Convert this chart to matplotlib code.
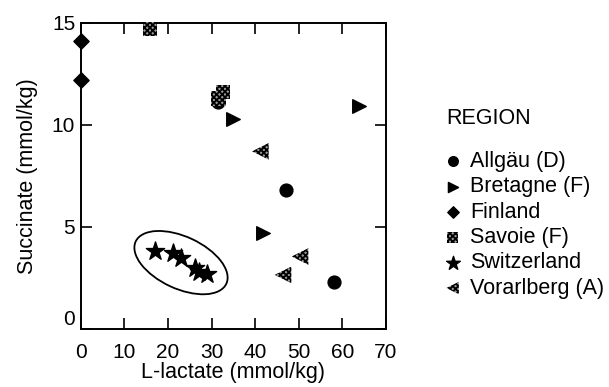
import matplotlib
matplotlib.use('Agg')
import matplotlib.pyplot as plt
from matplotlib.patches import Ellipse
from matplotlib.transforms import Affine2D

plt.rcParams['font.family'] = ['Liberation Sans', 'DejaVu Sans']
plt.rcParams['hatch.linewidth'] = 1.3

# valores (L-lactato, succinato)
allgau_x = [31.5, 47.0, 58.0]
allgau_y = [11.1, 6.8, 2.3]
bretagne_x = [34.9, 63.8, 41.9]
bretagne_y = [10.3, 10.9, 4.7]
finland_x = [0.0, 0.0]
finland_y = [14.1, 12.2]
savoie_x = [15.9, 31.6, 32.6]
savoie_y = [14.7, 11.3, 11.6]
swiss_x = [17.0, 21.2, 22.9, 26.3, 27.1, 29.0]
swiss_y = [3.8, 3.7, 3.5, 3.0, 2.8, 2.7]
vorarl_x = [41.2, 50.3, 46.4]
vorarl_y = [8.7, 3.55, 2.65]

labels = ['Allgäu (D)', 'Bretagne (F)', 'Finland', 'Savoie (F)',
          'Switzerland', 'Vorarlberg (A)']

fig = plt.figure(figsize=(6.09, 3.87), dpi=100)
ax = fig.add_axes([0.1325, 0.1499, 0.5013, 0.7915])

# puntos por region
ax.scatter(allgau_x, allgau_y, marker='o', s=85, c='black', zorder=3, label=labels[0])
ax.scatter(bretagne_x, bretagne_y, marker='>', s=95, c='black', zorder=3, label=labels[1])
ax.scatter(finland_x, finland_y, marker='D', s=60, c='black', zorder=4,
           clip_on=False, label=labels[2])
ax.scatter(savoie_x, savoie_y, marker='s', s=110, facecolor='#9a9a9a', edgecolor='black',
           hatch='xxxxxx', linewidth=0, zorder=4, clip_on=False, label=labels[3])
ax.scatter(swiss_x, swiss_y, marker='*', s=190, c='black', zorder=3, label=labels[4])
ax.scatter(vorarl_x, vorarl_y, marker='<', s=140, facecolor='#9a9a9a', edgecolor='black',
           hatch='xxxxxx', linewidth=0, zorder=3, label=labels[5])

# elipse alrededor de Suiza (definida en pixeles y pasada a datos)
ell_cx, ell_cy = 23.0, 3.25
ell_a, ell_b, ell_ang = 50, 26, -25
ax.set_xlim(0, 70)
ax.set_ylim(0, 15)
px_w = 0.5013 * 609
px_h = 0.7915 * 387
ell = Ellipse((0, 0), 2 * ell_a, 2 * ell_b, angle=ell_ang, fill=False,
              edgecolor='black', linewidth=1.3)
ell.set_transform(Affine2D().scale(70 / px_w, 15 / px_h).translate(ell_cx, ell_cy)
                  + ax.transData)
ax.add_patch(ell)

ax.set_xticks(range(0, 71, 10))
ax.set_yticks([0, 5, 10, 15])
ax.tick_params(direction='in', length=8, width=1.2, labelsize=15,
               top=True, right=True)
ax.tick_params(axis='x', pad=10)
ax.tick_params(axis='y', pad=4)
for sp in ax.spines.values():
    sp.set_linewidth(1.4)
ax.get_yticklabels()[0].set_va('bottom')

ax.set_xlabel('L-lactate (mmol/kg)', fontsize=15.5, labelpad=0)
ax.set_ylabel('Succinate (mmol/kg)', fontsize=15.5, labelpad=10)

leg = fig.legend(loc='upper left', bbox_to_anchor=(0.715, 0.749), frameon=False,
                 title='REGION', fontsize=15.5, title_fontsize=15.5,
                 alignment='left', markerscale=0.75, handlelength=0.6,
                 handletextpad=0.5, labelspacing=0.2, borderpad=0)
leg._legend_box.sep = 16

fig.savefig('out.png', dpi=100)
